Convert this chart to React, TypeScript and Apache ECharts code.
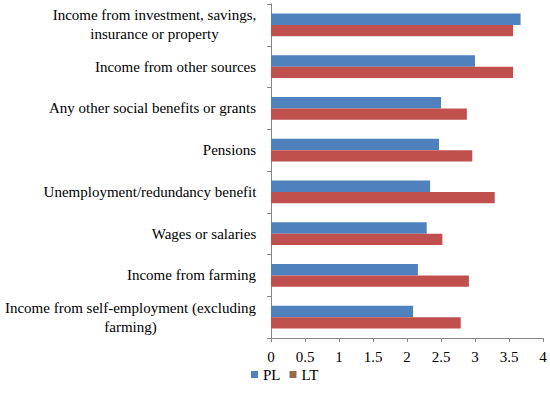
import React, { useEffect, useRef } from "react";
import * as echarts from "echarts";

const categories = [
  "Income from investment, savings,\ninsurance or property",
  "Income from other sources",
  "Any other social benefits or grants",
  "Pensions",
  "Unemployment/redundancy benefit",
  "Wages or salaries",
  "Income from farming",
  "Income from self-employment (excluding\nfarming)",
];
const plValues = [3.67, 3.0, 2.5, 2.47, 2.34, 2.29, 2.16, 2.09];
const ltValues = [3.56, 3.56, 2.88, 2.96, 3.29, 2.52, 2.91, 2.79];
const xTicks = [0, 0.5, 1, 1.5, 2, 2.5, 3, 3.5, 4];

const FONT_NAME = "Liberation Serif";
const FONT = "'Liberation Serif', 'DejaVu Serif', serif";
const FS = 15;

function measure(text: string): number {
  const c = document.createElement("canvas");
  const ctx = c.getContext("2d");
  if (!ctx) return text.length * 7;
  ctx.font = `${FS}px '${FONT_NAME}'`;
  return Math.ceil(ctx.measureText(text).width) + 1;
}

export default function App() {
  const ref = useRef<HTMLDivElement>(null);
  useEffect(() => {
    if (!ref.current) return;
    const rich: Record<string, any> = {};
    const labelMap: Record<string, string> = {};
    categories.forEach((cat, i) => {
      const lines = cat.split("\n");
      const w = Math.max(...lines.map(measure));
      rich["c" + i] = {
        width: w,
        align: "center",
        fontFamily: FONT,
        fontSize: FS,
        lineHeight: 19,
        color: "#000",
      };
      labelMap[cat] = lines.map((l) => `{c${i}|${l}}`).join("\n");
    });
    const chart = echarts.init(ref.current, undefined, { renderer: "svg" });
    chart.setOption({
      animation: false,
      backgroundColor: "#ffffff",
      textStyle: { fontFamily: FONT },
      grid: { left: 271, right: 7, top: 4, bottom: 60, containLabel: false },
      legend: {
        left: 246,
        top: 362,
        itemWidth: 7,
        itemHeight: 7,
        itemGap: 9,
        icon: "rect",
        textStyle: { fontFamily: FONT, fontSize: FS, color: "#000" },
        data: [
          { name: "PL", itemStyle: { color: "#4F81BD" } },
          { name: "LT", itemStyle: { color: "#9B6A4E" } },
        ],
      },
      xAxis: {
        type: "value",
        min: xTicks[0],
        max: xTicks[xTicks.length - 1],
        interval: 0.5,
        splitLine: { show: false },
        axisLine: { show: true, lineStyle: { color: "#868686" } },
        axisTick: { show: true, length: 4, lineStyle: { color: "#868686" } },
        axisLabel: {
          color: "#000",
          fontFamily: FONT,
          fontSize: FS,
          margin: 11,
          showMaxLabel: true,
          showMinLabel: true,
        },
      },
      yAxis: {
        type: "category",
        data: categories,
        inverse: true,
        axisLine: { show: true, lineStyle: { color: "#868686" } },
        axisTick: { show: true, length: 4, lineStyle: { color: "#868686" } },
        axisLabel: {
          color: "#000",
          fontFamily: FONT,
          fontSize: FS,
          margin: 14,
          lineHeight: 19,
          align: "right",
          formatter: (v: string) => labelMap[v] ?? v,
          rich,
        },
      },
      series: [
        {
          name: "PL",
          type: "bar",
          data: plValues,
          itemStyle: { color: "#4F81BD" },
          barGap: "0%",
          barCategoryGap: "45%",
        },
        {
          name: "LT",
          type: "bar",
          data: ltValues,
          itemStyle: { color: "#C0504D" },
          barGap: "0%",
          barCategoryGap: "45%",
        },
      ],
    });
    return () => chart.dispose();
  }, []);
  return (
    <div
      ref={ref}
      style={{ position: "fixed", left: 0, top: 0, width: 550, height: 398 }}
    />
  );
}
